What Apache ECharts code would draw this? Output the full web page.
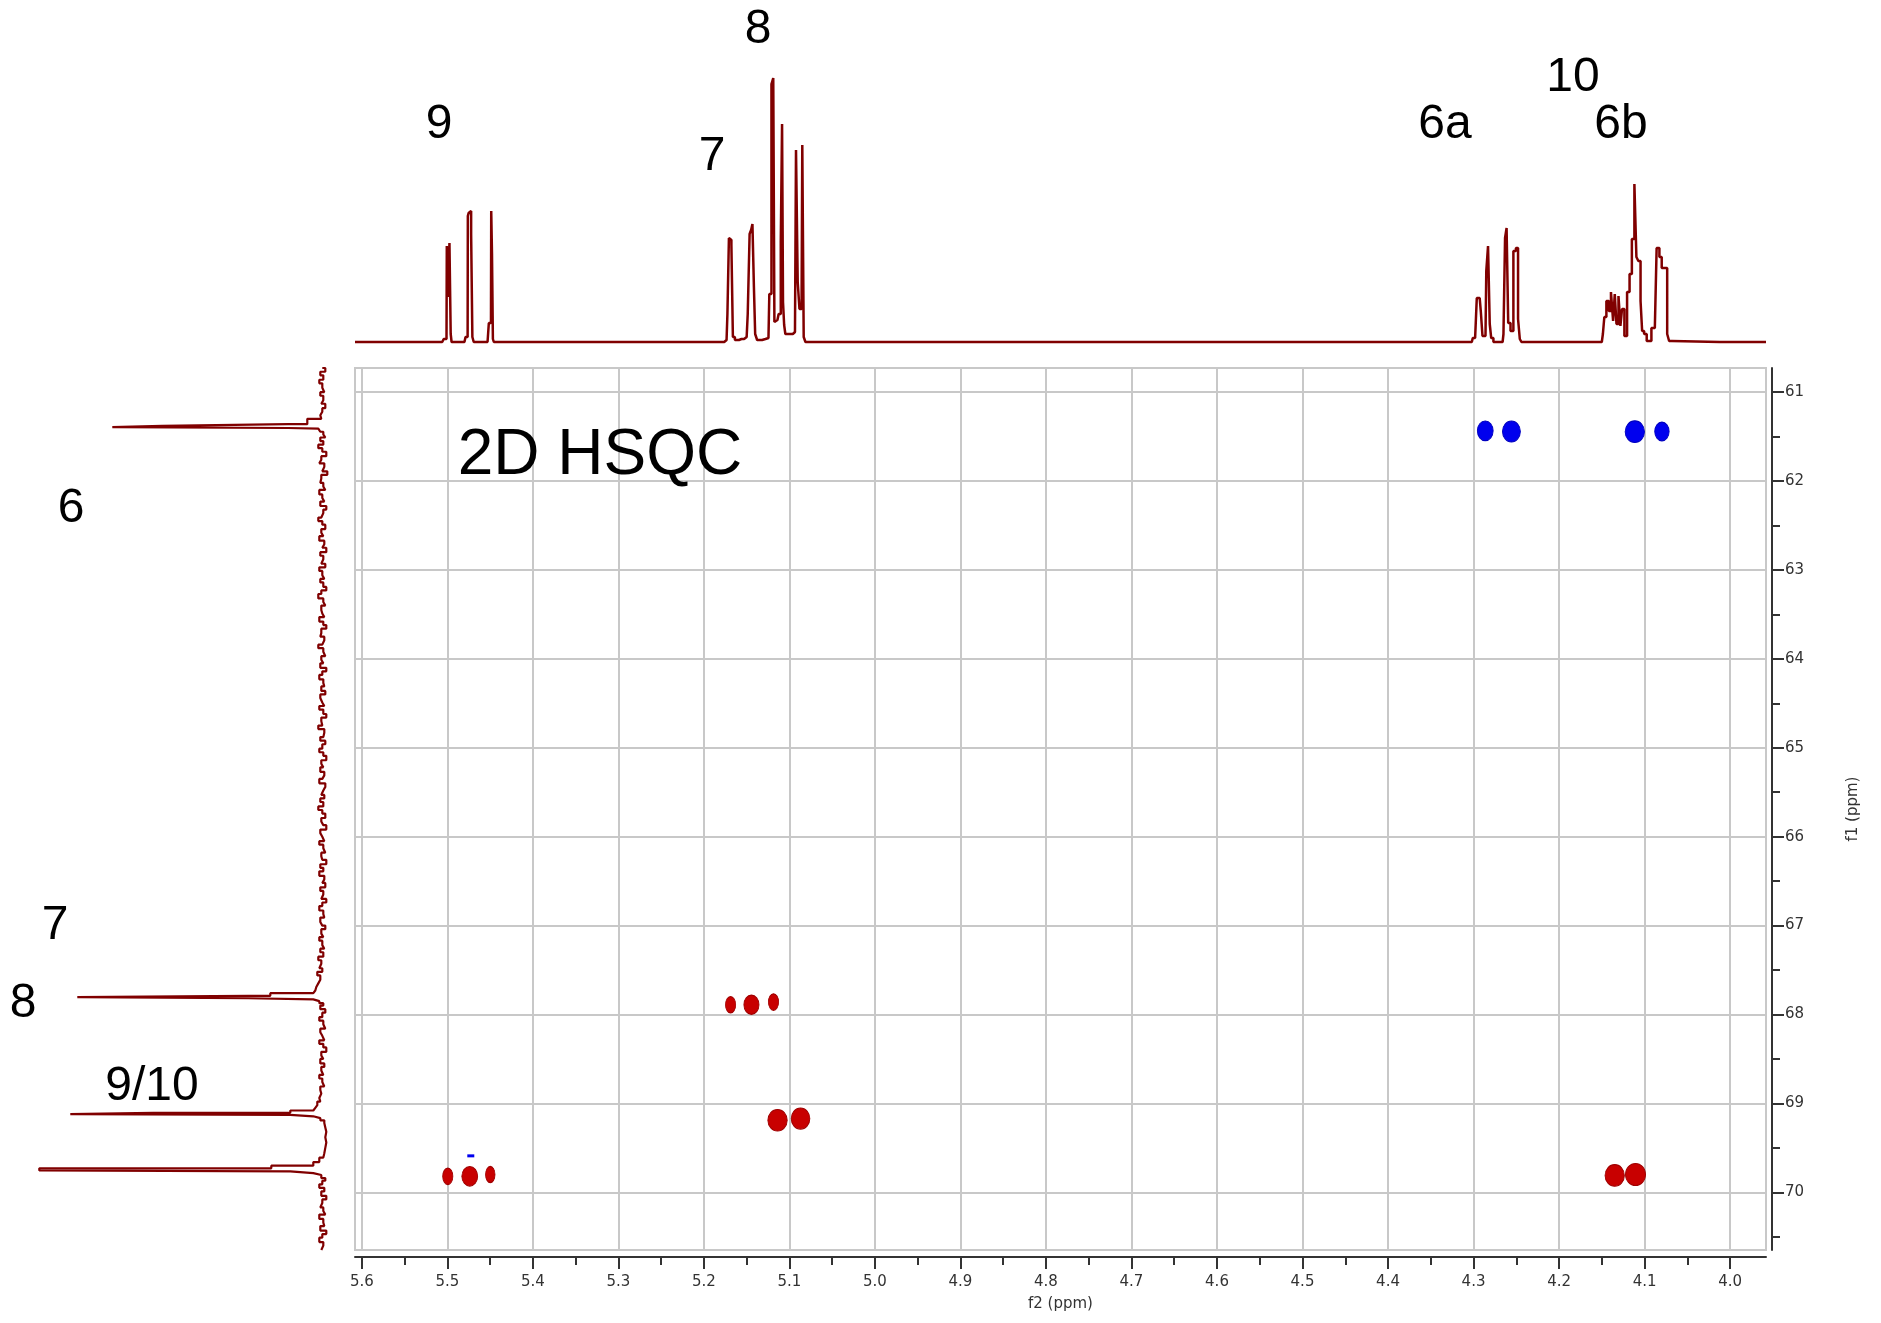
<!DOCTYPE html>
<html><head><meta charset="utf-8">
<script src="https://cdn.jsdelivr.net/npm/echarts@6/dist/echarts.min.js"></script>
<style>html,body{margin:0;padding:0;background:#fff}#c{width:1881px;height:1323px}</style>
</head><body><div id="c"></div>
<script>
// ---- axis ticks (ppm) ----
const f2Ticks = [5.6,5.5,5.4,5.3,5.2,5.1,5.0,4.9,4.8,4.7,4.6,4.5,4.4,4.3,4.2,4.1,4.0];
const f2Minor = [5.55,5.45,5.35,5.25,5.15,5.05,4.95,4.85,4.75,4.65,4.55,4.45,4.35,4.25,4.15,4.05];
const f1Ticks = [61,62,63,64,65,66,67,68,69,70];
const f1Minor = [61.5,62.5,63.5,64.5,65.5,66.5,67.5,68.5,69.5,70.5];
const f2Range = [3.958, 5.608];
const f1Range = [60.728, 70.649];

// ---- 1H projection (top): [ppm, intensity] ----
const topTrace = [
[5.608,0],[5.506,0],[5.5025,3],[5.5010,3],[5.5003,96],[5.4985,45],[5.4966,99],[5.4956,8],[5.4945,0],
[5.4800,0],[5.4775,5],[5.4763,5],[5.4758,126],[5.4745,129],[5.4732,131],[5.4712,108],[5.4703,5],[5.4680,0],
[5.4530,0],[5.4500,19],[5.4490,19],[5.4484,131],[5.4472,88],[5.4463,3],[5.4450,0],
[5.1790,0],[5.1735,2],[5.1715,28],[5.1700,104],[5.1690,102],[5.1667,97],[5.1655,5],[5.1620,2],[5.1560,3],[5.1500,5],[5.1475,28],[5.1456,108],[5.1440,112],[5.1425,118],[5.1406,56],[5.1395,8],[5.1360,2],[5.1280,3],[5.1245,4],[5.1225,48],[5.1195,258],[5.1183,264],[5.1168,20],[5.1140,22],[5.1112,28],[5.1090,100],[5.1082,218],[5.1068,40],[5.1055,17],[5.1040,8],[5.0960,8],[5.0935,10],[5.0911,192],[5.0895,60],[5.0870,33],[5.0858,33],[5.0841,197],[5.0825,5],[5.0800,0],
[4.3020,0],[4.2998,4],[4.2965,4],[4.2959,44],[4.2928,44],[4.2901,30],[4.2890,6],[4.2860,6],[4.2842,71],[4.2819,96],[4.2802,18],[4.2785,4],[4.2750,0],[4.2660,0],[4.2640,8],[4.2623,104],[4.2604,114],[4.2585,19],[4.2550,11],[4.2518,91],[4.2491,94],[4.2468,23],[4.2450,3],[4.2430,0],
[4.1500,0],[4.1475,8],[4.1466,25],[4.1427,41],[4.1410,31],[4.1376,50],[4.1360,21],[4.1337,48],[4.1320,18],[4.1290,46],[4.1275,16],[4.1252,33],[4.1220,6],[4.1189,50],[4.1162,68],[4.1135,103],[4.1103,158],[4.1088,85],[4.1057,81],[4.1037,41],[4.1020,11],[4.0990,8],[4.0960,1],[4.0880,14],[4.0838,94],[4.0815,85],[4.0784,74],[4.0745,74],[4.0726,8],[4.0700,1],[4.0660,0],[3.958,0]
];

// ---- 13C projection (left): [ppm, intensity] ----
const leftTrace = [
[60.728,1],[60.77,-2],[60.81,3],[60.86,0],[60.90,4],[60.95,1],[61.00,-1],[61.04,3],[61.09,0],[61.13,2],[61.18,-2],[61.22,1],[61.26,3],[61.30,2],
[61.33,16],[61.36,16],[61.38,35],[61.393,161],[61.403,211],[61.41,35],[61.425,5],[61.445,3],[61.475,0],
[61.51,-2],[61.55,3],[61.59,0],[61.63,5],[61.67,1],[61.72,-3],[61.76,2],[61.80,4],[61.84,-1],[61.89,1],[61.93,-4],[61.97,2],[62.02,3],[62.06,0],[62.10,-2],[62.15,4],[62.19,1],[62.23,-1],[62.28,3],[62.32,-3],[62.36,0],[62.41,2],[62.45,5],[62.49,1],[62.54,-2],[62.58,2],[62.62,0],[62.67,4],[62.71,-1],[62.75,1],[62.80,-3],[62.84,3],[62.88,0],[62.93,2],[62.97,-2],[63.01,4],[63.06,1],[63.10,-1],[63.14,3],[63.19,0],[63.23,-3],[63.27,2],[63.32,5],[63.36,0],[63.40,-2],[63.45,2],[63.49,1],[63.53,-1],[63.58,4],[63.62,0],[63.66,-3],[63.71,2],[63.75,3],[63.79,-1],[63.84,1],[63.88,5],[63.92,0],[63.97,-2],[64.01,2],[64.05,0],[64.10,3],[64.14,-3],[64.18,1],[64.23,4],[64.27,0],[64.31,-1],[64.36,2],[64.40,-2],[64.44,3],[64.49,1],[64.53,-1],[64.57,4],[64.62,0],[64.66,-3],[64.70,2],[64.75,1],[64.79,5],[64.83,-1],[64.88,0],[64.92,3],[64.96,-2],[65.01,1],[65.05,4],[65.09,0],[65.14,-3],[65.18,2],[65.22,0],[65.27,3],[65.31,-1],[65.35,1],[65.40,4],[65.44,-2],[65.48,0],[65.53,2],[65.57,-1],[65.61,3],[65.66,0],[65.70,5],[65.74,1],[65.79,-2],[65.83,2],[65.87,0],[65.92,-3],[65.96,3],[66.00,1],[66.05,-1],[66.09,4],[66.13,0],[66.18,-2],[66.22,2],[66.26,1],[66.31,-3],[66.35,3],[66.39,0],[66.44,4],[66.48,-1],[66.52,1],[66.57,-2],[66.61,3],[66.65,0],[66.70,2],[66.74,-3],[66.78,1],[66.83,4],[66.87,0],[66.91,-1],[66.96,3],[67.00,1],[67.04,-2],[67.09,2],[67.13,0],[67.17,4],[67.22,1],[67.26,-1],[67.30,3],[67.35,0],[67.39,5],[67.43,2],[67.48,4],[67.52,1],[67.56,6],[67.61,3],[67.65,5],[67.69,7],[67.73,8],[67.76,10],
[67.79,53],[67.805,75],[67.817,246],[67.83,75],[67.85,10],[67.873,4],[67.90,0],
[67.94,3],[67.98,-2],[68.03,1],[68.07,4],[68.11,0],[68.16,-2],[68.20,3],[68.24,1],[68.29,-1],[68.33,4],[68.37,0],[68.42,-3],[68.46,2],[68.50,0],[68.55,3],[68.59,-1],[68.63,2],[68.68,0],[68.72,4],[68.76,1],[68.81,-1],[68.85,3],[68.89,2],[68.94,4],[68.98,3],[69.02,6],[69.05,8],[69.08,10],
[69.105,33],[69.12,170],[69.13,253],[69.145,33],[69.165,10],[69.19,3],[69.22,-1],[69.27,-2],[69.32,-3],[69.38,-2],[69.44,-3],[69.50,-2],[69.56,-1],[69.61,0],[69.66,4],[69.70,10],
[69.73,52],[69.755,284],[69.765,284],[69.785,33],[69.805,10],[69.84,2],[69.87,-2],
[69.91,1],[69.95,4],[69.99,-1],[70.04,2],[70.08,-3],[70.12,1],[70.17,3],[70.21,0],[70.25,-2],[70.30,4],[70.34,0],[70.38,-1],[70.43,3],[70.47,-3],[70.51,1],[70.56,4],[70.60,0],[70.649,2]
];

// ---- HSQC cross peaks: [f2 ppm, f1 ppm, relative intensity] ----
const posPeaks = [
[5.1688,67.89,0.3],[5.1444,67.89,0.65],[5.1186,67.86,0.3],
[5.1139,69.19,0.95],[5.0870,69.17,0.9],
[5.4995,69.82,0.3],[5.4738,69.82,0.7],[5.4498,69.80,0.25],
[4.1349,69.81,0.95],[4.1106,69.80,1.0]
];
const negPeaks = [
[4.2863,61.435,0.7],[4.2557,61.442,0.85],[4.1114,61.444,0.95],[4.0797,61.442,0.6]
];
const negSmall = [[5.4726,69.59]];

const fontAx = '"DejaVu Sans", sans-serif';
const fontBig = '"Liberation Sans", Arial, sans-serif';
const sizeOf = v => [6 + 14 * v[2], 14 + 8 * v[2]];

const chart = echarts.init(document.getElementById('c'), null, {renderer: 'canvas'});
const bigText = (t, x, y, s) => ({type: 'text', x: x, y: y, z: 100, style: {text: t, fill: '#000', font: s + 'px ' + fontBig, align: 'center', verticalAlign: 'middle'}});

chart.setOption({
  animation: false,
  backgroundColor: '#fff',
  grid: [
    {left: 355, top: 368, width: 1411, height: 882, show: true, borderColor: '#c8c8c8', borderWidth: 2},
    {left: 355, top: 78, width: 1411, height: 264},
    {left: 39.3, top: 368, width: 304, height: 882}
  ],
  xAxis: [
    {gridIndex: 0, type: 'value', min: f2Range[0], max: f2Range[1], inverse: true, position: 'bottom', offset: 7,
     axisLine: {show: true, lineStyle: {color: '#333', width: 2}},
     axisTick: {show: true, customValues: f2Ticks, length: 12, lineStyle: {color: '#333', width: 2}},
     axisLabel: {customValues: f2Ticks, formatter: v => v.toFixed(1), margin: 18, fontSize: 15, color: '#333', fontFamily: fontAx},
     splitLine: {show: true, lineStyle: {color: '#c8c8c8', width: 2}},
     name: 'f2 (ppm)', nameLocation: 'middle', nameGap: 40, nameTextStyle: {fontSize: 15, color: '#333', fontFamily: fontAx}},
    {gridIndex: 0, type: 'value', min: f2Range[0], max: f2Range[1], inverse: true, position: 'bottom', offset: 7,
     axisLine: {show: false}, axisTick: {show: true, customValues: f2Minor, length: 8, lineStyle: {color: '#333', width: 2}},
     axisLabel: {show: false}, splitLine: {show: false}},
    {gridIndex: 1, type: 'value', min: f2Range[0], max: f2Range[1], inverse: true, show: false},
    {gridIndex: 2, type: 'value', min: -20, max: 284, inverse: true, show: false}
  ],
  yAxis: [
    {gridIndex: 0, type: 'value', min: f1Range[0], max: f1Range[1], inverse: true, position: 'right', offset: 6,
     axisLine: {show: true, lineStyle: {color: '#333', width: 2}},
     axisTick: {show: true, customValues: f1Ticks, length: 12, lineStyle: {color: '#333', width: 2}},
     axisLabel: {customValues: f1Ticks, margin: 13, fontSize: 15, color: '#333', fontFamily: fontAx},
     splitLine: {show: true, lineStyle: {color: '#c8c8c8', width: 2}},
     name: 'f1 (ppm)', nameLocation: 'middle', nameRotate: 90, nameGap: 74, nameTextStyle: {fontSize: 15, color: '#333', fontFamily: fontAx}},
    {gridIndex: 0, type: 'value', min: f1Range[0], max: f1Range[1], inverse: true, position: 'right', offset: 6,
     axisLine: {show: false}, axisTick: {show: true, customValues: f1Minor, length: 8, lineStyle: {color: '#333', width: 2}},
     axisLabel: {show: false}, splitLine: {show: false}},
    {gridIndex: 1, type: 'value', min: 0, max: 264, show: false},
    {gridIndex: 2, type: 'value', min: f1Range[0], max: f1Range[1], inverse: true, show: false}
  ],
  series: [
    {type: 'line', xAxisIndex: 2, yAxisIndex: 2, data: topTrace, showSymbol: false, clip: false, step: 'middle',
     lineStyle: {color: '#800000', width: 2.5}},
    {type: 'line', xAxisIndex: 3, yAxisIndex: 3, data: leftTrace.map(p => [p[1], p[0]]), showSymbol: false, clip: false, step: 'end',
     lineStyle: {color: '#800000', width: 2.2}},
    {type: 'scatter', xAxisIndex: 0, yAxisIndex: 0, data: posPeaks, symbol: 'circle', symbolSize: sizeOf,
     itemStyle: {color: '#c80000', borderColor: '#a00000', borderWidth: 1, opacity: 1}},
    {type: 'scatter', xAxisIndex: 0, yAxisIndex: 0, data: negPeaks, symbol: 'circle', symbolSize: sizeOf,
     itemStyle: {color: '#0000ee', borderColor: '#0000c0', borderWidth: 1, opacity: 1}},
    {type: 'scatter', xAxisIndex: 0, yAxisIndex: 0, data: negSmall, symbol: 'rect', symbolSize: [7, 3],
     itemStyle: {color: '#0000ee', opacity: 1}}
  ],
  graphic: [
    bigText('2D HSQC', 600, 456, 64),
    bigText('9', 439, 125, 48),
    bigText('7', 712, 157, 48),
    bigText('8', 758, 30, 48),
    bigText('6a', 1445, 125, 48),
    bigText('10', 1573, 78, 48),
    bigText('6b', 1621, 125, 48),
    bigText('6', 71, 509, 48),
    bigText('7', 55, 926, 48),
    bigText('8', 23, 1004, 48),
    bigText('9/10', 152, 1087, 48)
  ]
});
</script></body></html>
